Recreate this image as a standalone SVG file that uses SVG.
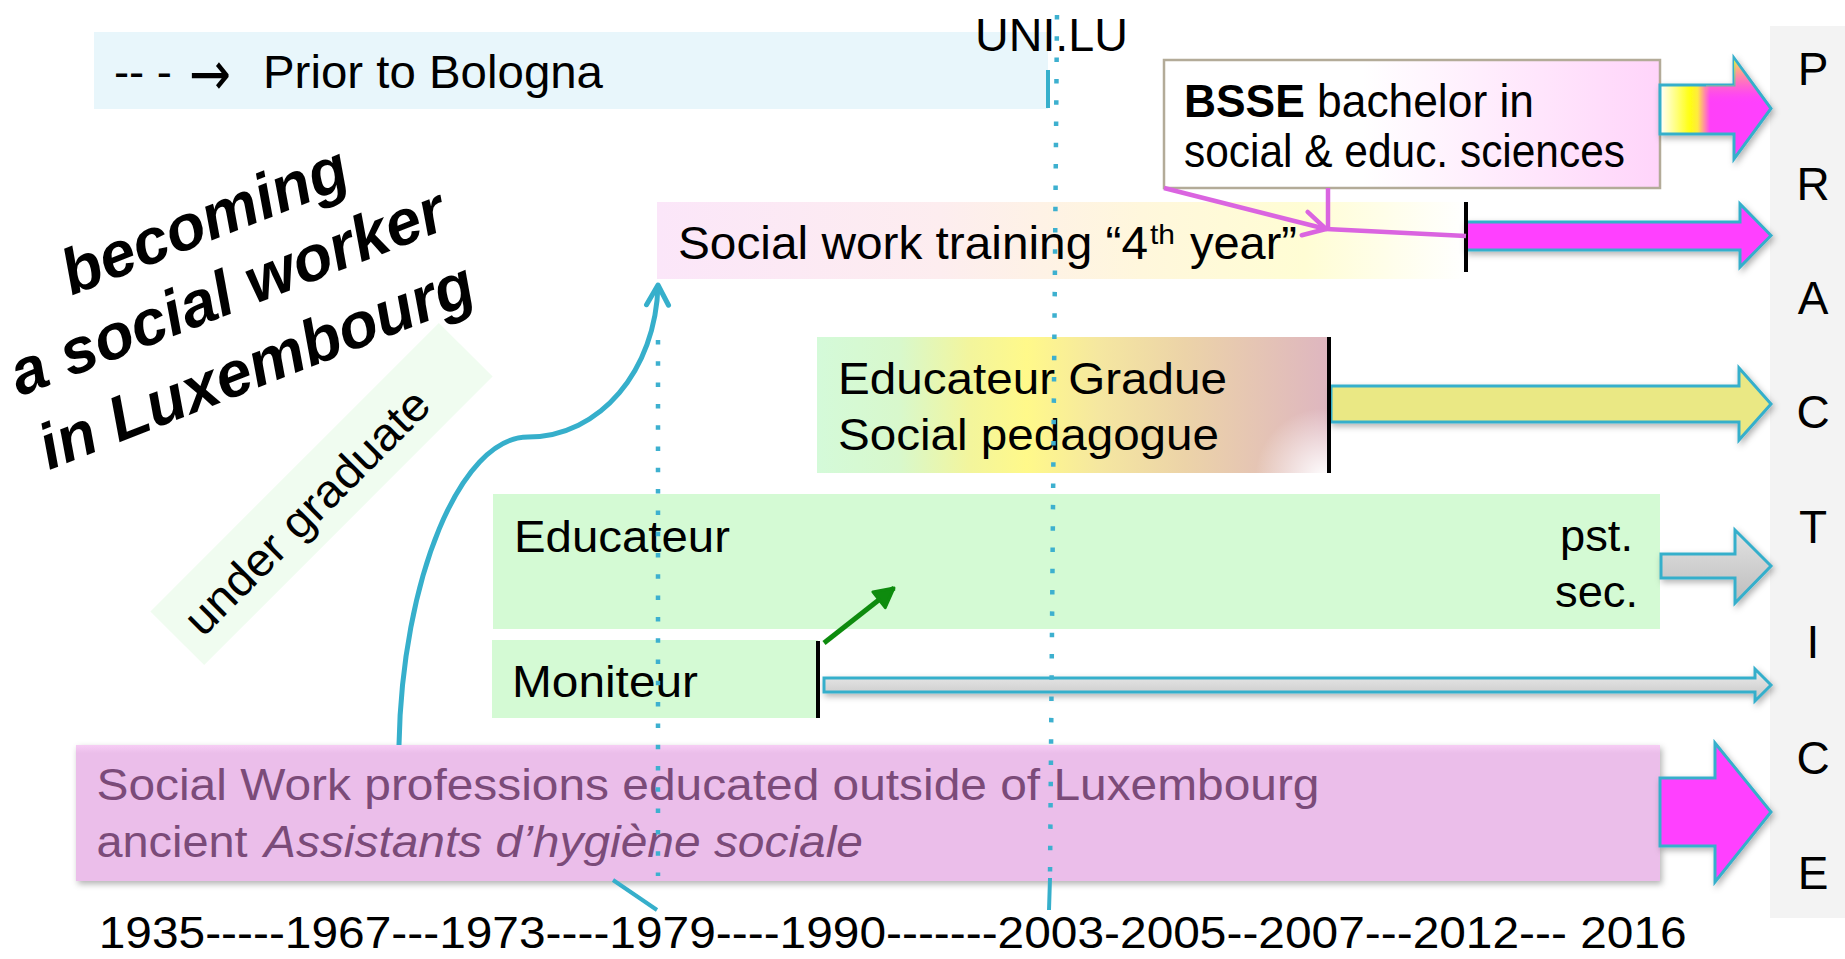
<svg xmlns="http://www.w3.org/2000/svg" width="1845" height="959" viewBox="0 0 1845 959">
<defs>
<style>
text{font-family:"Liberation Sans",Arial,sans-serif;font-size:46px;fill:#000}
.t45{font-size:45px}
.arr{stroke:#36AFCB;stroke-width:3;stroke-linejoin:miter;filter:url(#sh)}
.tick{stroke:#000;stroke-width:4}
.dot{stroke:#3DB0CF;stroke-width:4.5;stroke-dasharray:4.5 16.8;fill:none}
.solid{stroke:#36AFCB;stroke-width:4;fill:none}
.pl{fill:#7B4B79;font-size:45px}
.ttl{font-size:64px;font-weight:bold;font-style:italic}
</style>
<filter id="sh" x="-10%" y="-30%" width="130%" height="170%">
<feDropShadow dx="2" dy="3" stdDeviation="3" flood-color="#000" flood-opacity="0.3"/>
</filter>
<linearGradient id="gSW" x1="0" y1="0" x2="1" y2="0">
<stop offset="0" stop-color="#FBE6F9"/>
<stop offset="0.35" stop-color="#FDEDEF"/>
<stop offset="0.6" stop-color="#FFF7DC"/>
<stop offset="0.8" stop-color="#FFFDD4"/>
<stop offset="1" stop-color="#FFFFFF"/>
</linearGradient>
<linearGradient id="gBS" x1="0" y1="0" x2="1" y2="0">
<stop offset="0" stop-color="#FFFFFF"/>
<stop offset="0.4" stop-color="#FFFFFF"/>
<stop offset="1" stop-color="#FFD4FA"/>
</linearGradient>
<linearGradient id="gEG" x1="0" y1="0" x2="1" y2="0">
<stop offset="0" stop-color="#D4FAD9"/>
<stop offset="0.16" stop-color="#D8F8CC"/>
<stop offset="0.3" stop-color="#F3F59C"/>
<stop offset="0.41" stop-color="#FFF98A"/>
<stop offset="0.55" stop-color="#F5E7A0"/>
<stop offset="0.72" stop-color="#ECD3A8"/>
<stop offset="1" stop-color="#DEB6C0"/>
</linearGradient>
<radialGradient id="gGlow" cx="1325" cy="478" r="70" gradientUnits="userSpaceOnUse">
<stop offset="0" stop-color="#FFFFFF" stop-opacity="1"/>
<stop offset="1" stop-color="#FFFFFF" stop-opacity="0"/>
</radialGradient>
<linearGradient id="gPK" x1="0" y1="0" x2="0" y2="1">
<stop offset="0" stop-color="#F7CDF5"/>
<stop offset="0.06" stop-color="#EBBEEA"/>
<stop offset="1" stop-color="#EBBEEA"/>
</linearGradient>
<linearGradient id="gBA" x1="1660" y1="0" x2="1771" y2="0" gradientUnits="userSpaceOnUse">
<stop offset="0" stop-color="#FFFFFF"/>
<stop offset="0.27" stop-color="#FFFF10"/>
<stop offset="0.34" stop-color="#FFEA40"/>
<stop offset="0.45" stop-color="#FF40F8"/>
<stop offset="1" stop-color="#FF40FF"/>
</linearGradient>
<linearGradient id="gBAv" x1="0" y1="58" x2="0" y2="159" gradientUnits="userSpaceOnUse">
<stop offset="0" stop-color="#FFFF30" stop-opacity="0.9"/>
<stop offset="0.3" stop-color="#FFB070" stop-opacity="0.25"/>
<stop offset="0.45" stop-color="#FF40FF" stop-opacity="0"/>
</linearGradient>
<linearGradient id="gGr" x1="0" y1="0" x2="0" y2="1">
<stop offset="0" stop-color="#E2E2E2"/>
<stop offset="1" stop-color="#BDBDBD"/>
</linearGradient>
<linearGradient id="gTh" x1="0" y1="0" x2="0" y2="1">
<stop offset="0" stop-color="#EFEFEF"/>
<stop offset="1" stop-color="#C4C4C4"/>
</linearGradient>
<marker id="mBlue" viewBox="-25 -15 30 30" markerWidth="30" markerHeight="30" refX="0" refY="0" markerUnits="userSpaceOnUse" orient="auto">
<path d="M-20,-11 L0,0 L-20,11" fill="none" stroke="#36AFCB" stroke-width="5" stroke-linecap="round" stroke-linejoin="round"/>
</marker>
<marker id="mOrc" viewBox="-28 -16 32 32" markerWidth="32" markerHeight="32" refX="0" refY="0" markerUnits="userSpaceOnUse" orient="auto">
<path d="M-22,-12 L0,0 L-22,12" fill="none" stroke="#DA64E0" stroke-width="4.5" stroke-linecap="round" stroke-linejoin="round"/>
</marker>
<marker id="mGrn" viewBox="-25 -15 30 30" markerWidth="30" markerHeight="30" refX="0" refY="0" markerUnits="userSpaceOnUse" orient="auto">
<path d="M-19,-10 L0,0 L-19,10 Z" fill="#0E8B0E" stroke="#0E8B0E" stroke-width="3" stroke-linejoin="round"/>
</marker>
</defs>

<rect width="1845" height="959" fill="#FFFFFF"/>

<g id="practice">
<rect x="1770" y="26" width="75" height="892" fill="#F3F3F3"/>
<g text-anchor="middle">
<text x="1813" y="85">P</text>
<text x="1813" y="200">R</text>
<text x="1813" y="314">A</text>
<text x="1813" y="428">C</text>
<text x="1813" y="543">T</text>
<text x="1813" y="658">I</text>
<text x="1813" y="774">C</text>
<text x="1813" y="889">E</text>
</g>
</g>

<g id="prior-bologna">
<rect x="94" y="32" width="954" height="77" fill="#E8F6FB"/>
<text x="114" y="88" textLength="58" lengthAdjust="spacingAndGlyphs">-- -</text>
<text x="189" y="95" style="font-family:'DejaVu Sans',sans-serif;font-size:62px" textLength="42" lengthAdjust="spacingAndGlyphs">→</text>
<text x="263" y="88" textLength="340" lengthAdjust="spacingAndGlyphs">Prior to Bologna</text>
<line x1="1048" y1="70" x2="1048" y2="108" class="solid"/>
</g>

<g id="uni-lu">
<text x="975" y="51" textLength="153" lengthAdjust="spacingAndGlyphs">UNI.LU</text>
</g>

<g id="title" transform="translate(235,312) rotate(-21.5)" text-anchor="middle">
<text class="ttl" x="5" y="-75">becoming</text>
<text class="ttl" x="0" y="0">a social worker</text>
<text class="ttl" x="0" y="79">in Luxembourg</text>
</g>

<g id="under-graduate" transform="translate(321.5,494) rotate(-45)">
<rect x="-204" y="-38" width="408" height="76" fill="#F0FCF0"/>
<text x="-186" y="18" textLength="326" lengthAdjust="spacingAndGlyphs">under graduate</text>
</g>

<g id="bsse">
<rect x="1164" y="60" width="496" height="128" fill="url(#gBS)" stroke="#B3AB98" stroke-width="2.5"/>
<text x="1184" y="117" textLength="350" lengthAdjust="spacingAndGlyphs"><tspan font-weight="bold">BSSE</tspan> bachelor in</text>
<text x="1184" y="167" textLength="441" lengthAdjust="spacingAndGlyphs">social &amp; educ. sciences</text>
<polygon class="arr" fill="url(#gBA)" points="1660,85 1734,85 1734,58 1771,108.5 1734,159 1734,134 1660,134"/>
<polygon fill="url(#gBAv)" points="1706,85 1734,85 1734,60 1769,108.5 1706,108.5"/>
</g>

<g id="social-work-training">
<rect x="657" y="202" width="809" height="77" fill="url(#gSW)"/>
<text x="678" y="259" textLength="470" lengthAdjust="spacingAndGlyphs">Social work training “4</text>
<text x="1150" y="244" style="font-size:28px" textLength="25" lengthAdjust="spacingAndGlyphs">th</text>
<text x="1190" y="259" textLength="107" lengthAdjust="spacingAndGlyphs">year”</text>
<polygon class="arr" fill="#FF40FF" points="1466,222 1740,222 1740,204 1771,235.5 1740,267 1740,250 1466,250"/>
<line x1="1466" y1="202" x2="1466" y2="272" class="tick"/>
</g>

<g id="educateur-gradue">
<rect x="817" y="337" width="512" height="136" fill="url(#gEG)"/>
<rect x="1200" y="400" width="129" height="73" fill="url(#gGlow)"/>
<text class="t45" x="838" y="394" textLength="389" lengthAdjust="spacingAndGlyphs">Educateur Gradue</text>
<text class="t45" x="838" y="450" textLength="381" lengthAdjust="spacingAndGlyphs">Social pedagogue</text>
<polygon class="arr" fill="#EAE884" points="1331,386 1739,386 1739,368 1771,404 1739,440 1739,422 1331,422"/>
<line x1="1329" y1="337" x2="1329" y2="473" class="tick"/>
</g>

<g id="educateur">
<rect x="493" y="494" width="1167" height="135" fill="#D4FAD4"/>
<text class="t45" x="514" y="552" textLength="216" lengthAdjust="spacingAndGlyphs">Educateur</text>
<text class="t45" x="1560" y="551" textLength="73" lengthAdjust="spacingAndGlyphs">pst.</text>
<text class="t45" x="1555" y="607" textLength="83" lengthAdjust="spacingAndGlyphs">sec.</text>
<polygon class="arr" fill="url(#gGr)" points="1661,554 1735,554 1735,530 1771,566 1735,603 1735,578 1661,578"/>
</g>

<g id="moniteur">
<rect x="492" y="640" width="326" height="78" fill="#D4FAD4"/>
<text class="t45" x="512" y="697" textLength="186" lengthAdjust="spacingAndGlyphs">Moniteur</text>
<polygon class="arr" fill="url(#gTh)" stroke-width="2.5" points="824,678 1755,678 1755,669 1771,685 1755,701 1755,692 824,692"/>
<line x1="818" y1="641" x2="818" y2="718" class="tick"/>
</g>

<g id="outside-luxembourg">
<rect x="76" y="745" width="1584" height="136" fill="url(#gPK)" filter="url(#sh)"/>
<text class="pl" x="96.5" y="800" textLength="1223" lengthAdjust="spacingAndGlyphs">Social Work professions educated outside of Luxembourg</text>
<text class="pl" x="96.5" y="857" textLength="151" lengthAdjust="spacingAndGlyphs">ancient</text>
<text class="pl" x="264" y="857" font-style="italic" textLength="599" lengthAdjust="spacingAndGlyphs">Assistants d’hygiène sociale</text>
<polygon class="arr" fill="#FF40FF" points="1660,778 1715,778 1715,743 1771,812 1715,882 1715,846 1660,846"/>
</g>

<g id="years">
<text class="t45" x="98.7" y="948" textLength="1588" lengthAdjust="spacingAndGlyphs">1935-----1967---1973----1979----1990-------2003-2005--2007---2012--- 2016</text>
</g>

<g id="connectors">
<line class="dot" x1="1057" y1="15" x2="1050" y2="876"/>
<line class="solid" x1="1050" y1="878" x2="1049" y2="910"/>
<line class="dot" x1="658" y1="340" x2="658" y2="876"/>
<line class="solid" x1="613" y1="880" x2="657" y2="910"/>
<path d="M399,745 C402,580 460,437 528,437 C600,437 656,370 658,285" fill="none" stroke="#36AFCB" stroke-width="5" marker-end="url(#mBlue)"/>
<line x1="1164" y1="188" x2="1326" y2="229" stroke="#DA64E0" stroke-width="4.5" marker-end="url(#mOrc)"/>
<line x1="1328" y1="188" x2="1328" y2="229" stroke="#DA64E0" stroke-width="4.5"/>
<line x1="1326" y1="229" x2="1466" y2="236" stroke="#DA64E0" stroke-width="4.5"/>
<line x1="824" y1="643" x2="894" y2="588" stroke="#0E8B0E" stroke-width="5" marker-end="url(#mGrn)"/>
</g>
</svg>
